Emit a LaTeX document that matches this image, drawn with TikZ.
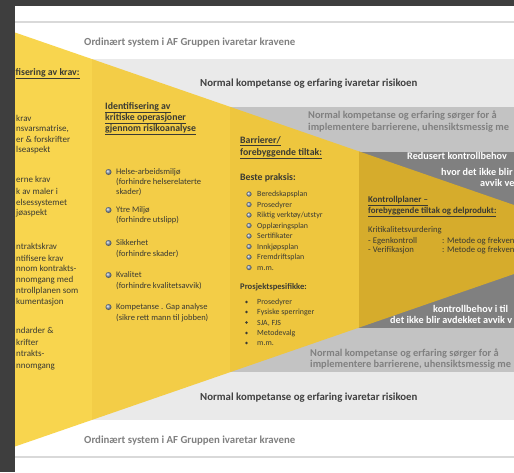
\documentclass[tikz,border=0pt]{standalone}
\usepackage{fontspec}
\setmainfont{Carlito}
\usepackage{xcolor}

\definecolor{framegray}{HTML}{3E3E3E}
\definecolor{linegray}{HTML}{D9D9D9}
\definecolor{bandlight}{HTML}{EAEAEA}
\definecolor{bandmid}{HTML}{C3C3C3}
\definecolor{banddark}{HTML}{808080}
\definecolor{yelA}{HTML}{F8D54E}
\definecolor{yelB}{HTML}{F3CD47}
\definecolor{yelC}{HTML}{EEC63E}
\definecolor{yelD}{HTML}{D6AC2C}
\definecolor{txtdark}{HTML}{3A3A33}
\definecolor{iconblue}{HTML}{8E9DB3}

\tikzset{
  body/.style={anchor=base west, inner sep=0pt, text=txtdark, font=\fontsize{8.5}{10}\selectfont},
  reqtxt/.style={body, font=\fontsize{9}{10}\selectfont},
  listtxt/.style={body, font=\fontsize{7.9}{9}\selectfont},
  head/.style={body, font=\bfseries\fontsize{9.8}{11}\selectfont},
  projhead/.style={body, font=\bfseries\fontsize{8.6}{10}\selectfont},
  ctrlhead/.style={body, font=\bfseries\fontsize{8.9}{10}\selectfont},
  ctrltxt/.style={body, font=\fontsize{8.7}{10}\selectfont},
  bandtxt/.style={anchor=base west, inner sep=0pt, font=\bfseries\fontsize{10.8}{12}\selectfont},
  midtxt/.style={bandtxt, text=gray, font=\bfseries\fontsize{10.4}{12}\selectfont},
  darktxt/.style={anchor=base west, inner sep=0pt, text=white, font=\bfseries\fontsize{10.2}{12}\selectfont},
  icon/.style={ball color=iconblue},
}

\begin{document}
\begin{tikzpicture}[x=1pt,y=-1pt]

        \useasboundingbox (0,0) rectangle (514,472);
        \clip (0,0) rectangle (514,472);

        % background bands
            \fill[white] (0,0) rectangle (514,472);
            \draw[linegray, line width=1.2pt] (15,22) -- (514,22);
            \draw[linegray, line width=1.2pt] (15,457) -- (514,457);
            \fill[bandlight] (15,59) rectangle (514,420);
            \fill[bandmid] (15,107) rectangle (514,372);
            \fill[banddark] (15,151.5) rectangle (514,327.5);

        % funnel
            \fill[yelA] (15,32.5) -- (92,59.1) -- (92,419.9) -- (15,446.5) -- cycle;
            \fill[yelB] (92,59.1) -- (230,106.8) -- (230,372.2) -- (92,419.9) -- cycle;
            \fill[yelC] (230,106.8) -- (359,151.4) -- (359,327.6) -- (230,372.2) -- cycle;
            \fill[yelD] (359,151.4) -- (514,205) -- (514,274) -- (359,327.6) -- cycle;

        % band texts
            \node[bandtxt, text=gray] (ordtop) at (84,45) {Ordinært system i AF Gruppen ivaretar kravene};
            \node[bandtxt, text=gray] (ordbot) at (84,443) {Ordinært system i AF Gruppen ivaretar kravene};
            \node[bandtxt, text=darkgray] (normtop) at (200,86) {Normal kompetanse og erfaring ivaretar risikoen};
            \node[bandtxt, text=darkgray] (normbot) at (200,400) {Normal kompetanse og erfaring ivaretar risikoen};
            \node[midtxt] (impltopa) at (308,118) {Normal kompetanse og erfaring sørger for å};
            \node[midtxt] (impltopb) at (308,130) {implementere barrierene, uhensiktsmessig me};
            \node[midtxt] (implbota) at (310,356) {Normal kompetanse og erfaring sørger for å};
            \node[midtxt] (implbotb) at (310,367) {implementere barrierene, uhensiktsmessig me};

        % reduced control
            \node[darktxt] (redtopa) at (407,159) {Redusert kontrollbehov};
            \node[darktxt] (redtopb) at (441,175) {hvor det ikke blir};
            \node[darktxt] (redtopc) at (480,186) {avvik ve};
            \node[darktxt] (redbota) at (433,312) {kontrollbehov i til};
            \node[darktxt] (redbotb) at (390,323) {det ikke blir avdekket avvik v};

        % requirements
            \node[head] (krhead) at (15.5,75) {\underline{fisering av krav:}};
            \node[reqtxt] (kra) at (16,121) {krav};
            \node[reqtxt] (krb) at (16,131.5) {nsvarsmatrise,};
            \node[reqtxt] (krc) at (16,142) {er \& forskrifter};
            \node[reqtxt] (krd) at (16,152) {lseaspekt};
            \node[reqtxt] (kre) at (16,182) {erne krav};
            \node[reqtxt] (krf) at (16,194.5) {k av maler i};
            \node[reqtxt] (krg) at (16,205.5) {elsessystemet};
            \node[reqtxt] (krh) at (16,215) {jøaspekt};
            \node[reqtxt] (kri) at (16,249) {ntraktskrav};
            \node[reqtxt] (krj) at (16,261) {ntifisere krav};
            \node[reqtxt] (krk) at (16,271.5) {nnom kontrakts-};
            \node[reqtxt] (krl) at (16,282.5) {nnomgang med};
            \node[reqtxt] (krm) at (16,293) {ntrollplanen som};
            \node[reqtxt] (krn) at (16,304) {kumentasjon};
            \node[reqtxt] (kro) at (16,333) {ndarder \&};
            \node[reqtxt] (krp) at (16,345) {krifter};
            \node[reqtxt] (krq) at (16,356) {ntrakts-};
            \node[reqtxt] (krr) at (16,368) {nnomgang};

        % critical operations
            \node[head] (ophead1) at (105,109) {\underline{Identifisering av}};
            \node[head] (ophead2) at (105,120) {\underline{kritiske operasjoner}};
            \node[head] (ophead3) at (105,131) {\underline{gjennom risikoanalyse}};
            \shade[icon] (108.5,172) circle (3);
            \node[body] (opa1) at (116,174.5) {Helse-arbeidsmiljø};
            \node[body] (opa2) at (116,184.5) {(forhindre helserelaterte};
            \node[body] (opa3) at (116,194.5) {skader)};
            \shade[icon] (108.5,210) circle (3);
            \node[body] (opb1) at (116,212.5) {Ytre Miljø};
            \node[body] (opb2) at (116,222.5) {(forhindre utslipp)};
            \shade[icon] (108.5,243) circle (3);
            \node[body] (opc1) at (116,245.5) {Sikkerhet};
            \node[body] (opc2) at (116,256.5) {(forhindre skader)};
            \shade[icon] (108.5,275) circle (3);
            \node[body] (opd1) at (116,277.5) {Kvalitet};
            \node[body] (opd2) at (116,288.5) {(forhindre kvalitetsavvik)};
            \shade[icon] (108.5,307) circle (3);
            \node[body] (ope1) at (116,309.5) {Kompetanse . Gap analyse};
            \node[body] (ope2) at (116,320.5) {(sikre rett mann til jobben)};

        % barriers
            \node[head] (bahead1) at (240,143) {\underline{Barrierer/}};
            \node[head] (bahead2) at (240,155) {\underline{forebyggende tiltak:}};
            \node[head] (babest) at (240,180) {Beste praksis:};
            \shade[icon] (249,194) circle (2.6);
            \node[listtxt] (baa) at (257,196.5) {Beredskapsplan};
            \shade[icon] (249,204.5) circle (2.6);
            \node[listtxt] (bab) at (257,207) {Prosedyrer};
            \shade[icon] (249,215) circle (2.6);
            \node[listtxt] (bac) at (257,217.5) {Riktig verktøy/utstyr};
            \shade[icon] (249,225.5) circle (2.6);
            \node[listtxt] (bad) at (257,228) {Opplæringsplan};
            \shade[icon] (249,236) circle (2.6);
            \node[listtxt] (bae) at (257,238.5) {Sertifikater};
            \shade[icon] (249,246.5) circle (2.6);
            \node[listtxt] (baf) at (257,249) {Innkjøpsplan};
            \shade[icon] (249,257) circle (2.6);
            \node[listtxt] (bag) at (257,259.5) {Fremdriftsplan};
            \shade[icon] (249,267.5) circle (2.6);
            \node[listtxt] (bah) at (257,270) {m.m.};
            \node[projhead] (baproj) at (240,289.5) {Prosjektspesifikke:};
            \fill[txtdark] (246.5,302) circle (1.3);
            \node[listtxt] (bpa) at (257,304.5) {Prosedyrer};
            \fill[txtdark] (246.5,312) circle (1.3);
            \node[listtxt] (bpb) at (257,314.5) {Fysiske sperringer};
            \fill[txtdark] (246.5,322.5) circle (1.3);
            \node[listtxt] (bpc) at (257,325) {SJA, FJS};
            \fill[txtdark] (246.5,333) circle (1.3);
            \node[listtxt] (bpd) at (257,335.5) {Metodevalg};
            \fill[txtdark] (246.5,343) circle (1.3);
            \node[listtxt] (bpe) at (257,345.5) {m.m.};

        % control plans
            \node[ctrlhead] (kohead1) at (368,202) {\underline{Kontrollplaner –}};
            \node[ctrlhead] (kohead2) at (368,213) {\underline{forebyggende tiltak og delprodukt:}};
            \node[ctrltxt] (koa) at (368,232.5) {Kritikalitetsvurdering};
            \node[ctrltxt] (kob) at (368,243.5) {- Egenkontroll};
            \node[ctrltxt] (kobm) at (442,243.5) {: Metode og frekven};
            \node[ctrltxt] (koc) at (368,252.5) {- Verifikasjon};
            \node[ctrltxt] (kocm) at (442,252.5) {: Metode og frekven};

        % frame
            \fill[framegray] (0,0) rectangle (15,472);
            \fill[framegray] (0,0) rectangle (514,6);

\end{tikzpicture}
\end{document}
